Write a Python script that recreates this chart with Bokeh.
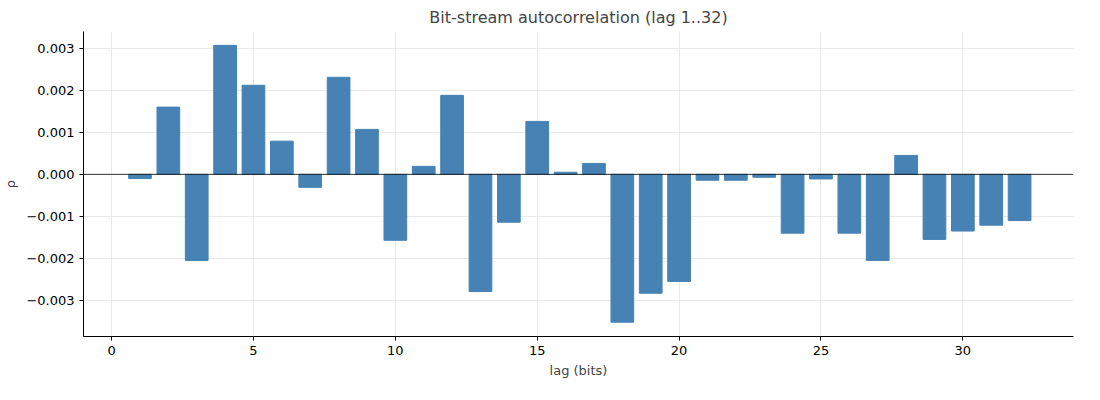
from bokeh.plotting import figure
from bokeh.models import Range1d, Span, FixedTicker, CustomJSTickFormatter
from bokeh.embed import file_html
from bokeh.resources import INLINE

lags = list(range(1, 33))
rho = [-0.0001, 0.0016, -0.00205, 0.00307, 0.00212, 0.00079, -0.00031, 0.00231,
       0.00107, -0.00157, 0.00019, 0.00188, -0.00279, -0.00114, 0.00126, 0.00005,
       0.00026, -0.00352, -0.00283, -0.00255, -0.00014, -0.00014, -0.00007, -0.0014,
       -0.00011, -0.0014, -0.00205, 0.00045, -0.00155, -0.00135, -0.00121, -0.0011]
xticks = [0, 5, 10, 15, 20, 25, 30]
yticks = [-0.003, -0.002, -0.001, 0.0, 0.001, 0.002, 0.003]

FONT = "DejaVu Sans"
p = figure(frame_width=990, frame_height=305, output_backend="svg", toolbar_location=None,
           x_range=Range1d(-0.99, 33.9), y_range=Range1d(-0.00386, 0.0034),
           title="Bit-stream autocorrelation (lag 1..32)",
           min_border_left=40, min_border_right=13, min_border_top=5, min_border_bottom=5)
p.title.align = "center"
p.title.text_font = FONT
p.title.text_font_size = "16px"
p.title.text_font_style = "normal"
p.outline_line_color = None
p.background_fill_color = "white"

p.vbar(x=lags, top=rho, bottom=0, width=0.8, color="#4682b4")
p.add_layout(Span(location=0, dimension="width", line_color="black", line_width=0.8))

p.xaxis.ticker = FixedTicker(ticks=xticks)
p.yaxis.ticker = FixedTicker(ticks=yticks)
p.yaxis.formatter = CustomJSTickFormatter(code="return tick.toFixed(3).replace('-', '\\u2212');")
p.xaxis.axis_label = "lag (bits)"
p.yaxis.axis_label = "ρ"
for ax in (p.xaxis, p.yaxis):
    ax.axis_label_text_font = FONT
    ax.axis_label_text_font_size = "13px"
    ax.axis_label_text_font_style = "normal"
    ax.major_label_text_font = FONT
    ax.major_label_text_font_size = "13px"
    ax.major_tick_in = 0
    ax.major_tick_out = 4
    ax.minor_tick_line_color = None
    ax.axis_line_color = "black"
    ax.major_label_text_color = "black"
p.grid.grid_line_color = "#e5e5e5"
p.grid.grid_line_width = 0.8

open("out.html", "w").write(file_html(p, INLINE))
